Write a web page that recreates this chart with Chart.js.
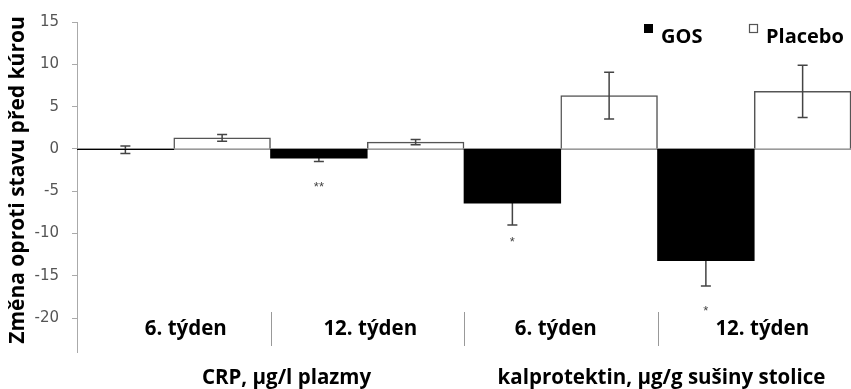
<!DOCTYPE html>
<html>
<head>
<meta charset="utf-8">
<script src="https://cdn.jsdelivr.net/npm/chart.js@4.4.1/dist/chart.umd.min.js"></script>
<style>
  body { margin: 0; background: #fff; }
</style>
</head>
<body>
<canvas id="chart" width="851" height="389"></canvas>
<script>
const weeks = ['6. týden', '12. týden', '6. týden', '12. týden'];
const groups = ['CRP, μg/l plazmy', 'kalprotektin, μg/g sušiny stolice'];
const gosValues = [-0.1, -1.1, -6.4, -13.2];
const gosErrors = [0.45, 0.4, 2.6, 3.0];
const placeboValues = [1.3, 0.8, 6.3, 6.8];
const placeboErrors = [0.4, 0.3, 2.75, 3.1];
const gosMarks = ['', '**', '*', '*'];
const gosMarkAt = [null, -4.5, -11.1, -19.2];
const yTicks = [15, 10, 5, 0, -5, -10, -15, -20];
const yTitle = 'Změna oproti stavu před kúrou';

const labelFont = 'bold 20.5px "Open Sans"';

// zero line under bars
const zeroLine = {
    id: 'zeroLine',
    beforeDatasetsDraw(chart) {
        const { ctx, chartArea, scales } = chart;
        const y = scales.y.getPixelForValue(0);
        ctx.save();
        ctx.strokeStyle = '#9a9a9a';
        ctx.lineWidth = 2;
        ctx.beginPath();
        ctx.moveTo(chartArea.left, y);
        ctx.lineTo(chartArea.right, y);
        ctx.stroke();
        ctx.restore();
    }
};

function drawErrors(chart, d, errs) {
    const { ctx, scales } = chart;
    const meta = chart.getDatasetMeta(d);
    const data = chart.data.datasets[d].data;
    ctx.save();
    ctx.strokeStyle = '#444';
    ctx.lineWidth = 1.5;
    meta.data.forEach((bar, i) => {
        const y1 = scales.y.getPixelForValue(data[i] - errs[i]);
        const y2 = scales.y.getPixelForValue(data[i] + errs[i]);
        ctx.beginPath();
        ctx.moveTo(bar.x, y1);
        ctx.lineTo(bar.x, y2);
        ctx.moveTo(bar.x - 5, y1);
        ctx.lineTo(bar.x + 5, y1);
        ctx.moveTo(bar.x - 5, y2);
        ctx.lineTo(bar.x + 5, y2);
        ctx.stroke();
    });
    ctx.restore();
}

// GOS error bars go under the black bars, placebo ones on top
const errorBars = {
    id: 'errorBars',
    beforeDatasetsDraw(chart) {
        drawErrors(chart, 0, gosErrors);
    },
    afterDatasetsDraw(chart) {
        drawErrors(chart, 1, placeboErrors);
        const { ctx, scales } = chart;
        const gosMeta = chart.getDatasetMeta(0);
        ctx.save();
        ctx.fillStyle = '#444';
        ctx.font = '13px "Liberation Sans"';
        ctx.textAlign = 'center';
        ctx.textBaseline = 'middle';
        gosMarks.forEach((m, i) => {
            if (!m) return;
            ctx.fillText(m, gosMeta.data[i].x, scales.y.getPixelForValue(gosMarkAt[i]));
        });
        ctx.restore();
    }
};

// week labels, separators, group labels, legend, y title
const extraText = {
    id: 'extraText',
    afterDraw(chart) {
        const { ctx, scales } = chart;
        const x = scales.x;
        const weekNudge = [12, 3, -5, 8];
        const groupNudge = [16, 4];
        ctx.save();
        ctx.fillStyle = '#000';
        ctx.font = labelFont;
        ctx.textAlign = 'center';
        ctx.textBaseline = 'middle';
        weeks.forEach((w, i) => {
            ctx.fillText(w, x.getPixelForValue(i) + weekNudge[i], 329);
        });
        ctx.strokeStyle = '#999';
        ctx.lineWidth = 1;
        for (let i = 0; i < weeks.length - 1; i++) {
            const sx = Math.round((x.getPixelForValue(i) + x.getPixelForValue(i + 1)) / 2) + 0.5;
            ctx.beginPath();
            ctx.moveTo(sx, 312);
            ctx.lineTo(sx, 346);
            ctx.stroke();
        }
        groups.forEach((g, i) => {
            const gx = (x.getPixelForValue(i * 2) + x.getPixelForValue(i * 2 + 1)) / 2;
            ctx.fillText(g, gx + groupNudge[i], 378);
        });

        // y title
        ctx.save();
        ctx.translate(18, 180);
        ctx.rotate(-Math.PI / 2);
        ctx.font = 'bold 21px "Open Sans"';
        ctx.fillText(yTitle, 0, 0);
        ctx.restore();

        // legend
        ctx.font = 'bold 20px "Open Sans"';
        ctx.textAlign = 'left';
        ctx.textBaseline = 'alphabetic';
        ctx.fillStyle = '#000';
        ctx.fillRect(644, 24, 9, 9);
        ctx.fillText(chart.data.datasets[0].label, 661, 43);
        ctx.strokeStyle = '#555';
        ctx.lineWidth = 1.2;
        ctx.strokeRect(749.5, 24.5, 8, 8);
        ctx.fillText(chart.data.datasets[1].label, 766, 43);
        ctx.restore();
    }
};

new Chart(document.getElementById('chart'), {
    type: 'bar',
    data: {
        labels: weeks,
        datasets: [
            {
                label: 'GOS',
                data: gosValues,
                backgroundColor: '#000',
                borderColor: '#000',
                borderWidth: 0
            },
            {
                label: 'Placebo',
                data: placeboValues,
                backgroundColor: '#fff',
                borderColor: '#555',
                borderWidth: 1.5
            }
        ]
    },
    options: {
        responsive: false,
        animation: false,
        events: [],
        layout: { padding: { top: 22, bottom: 37, right: 0, left: 0 } },
        datasets: { bar: { categoryPercentage: 1, barPercentage: 1 } },
        plugins: { legend: { display: false }, tooltip: { enabled: false } },
        scales: {
            x: { display: false },
            y: {
                min: -24,
                max: 15,
                afterBuildTicks(scale) {
                    scale.ticks = yTicks.map(v => ({ value: v }));
                },
                afterFit(scale) {
                    scale.width = 77;
                },
                border: { color: '#aaa', width: 1 },
                grid: { drawOnChartArea: false, drawTicks: true, tickLength: 5, color: '#aaa' },
                ticks: {
                    padding: 13,
                    color: '#555',
                    font: { family: '"DejaVu Sans"', size: 15 }
                }
            }
        }
    },
    plugins: [zeroLine, errorBars, extraText]
});
</script>
</body>
</html>
